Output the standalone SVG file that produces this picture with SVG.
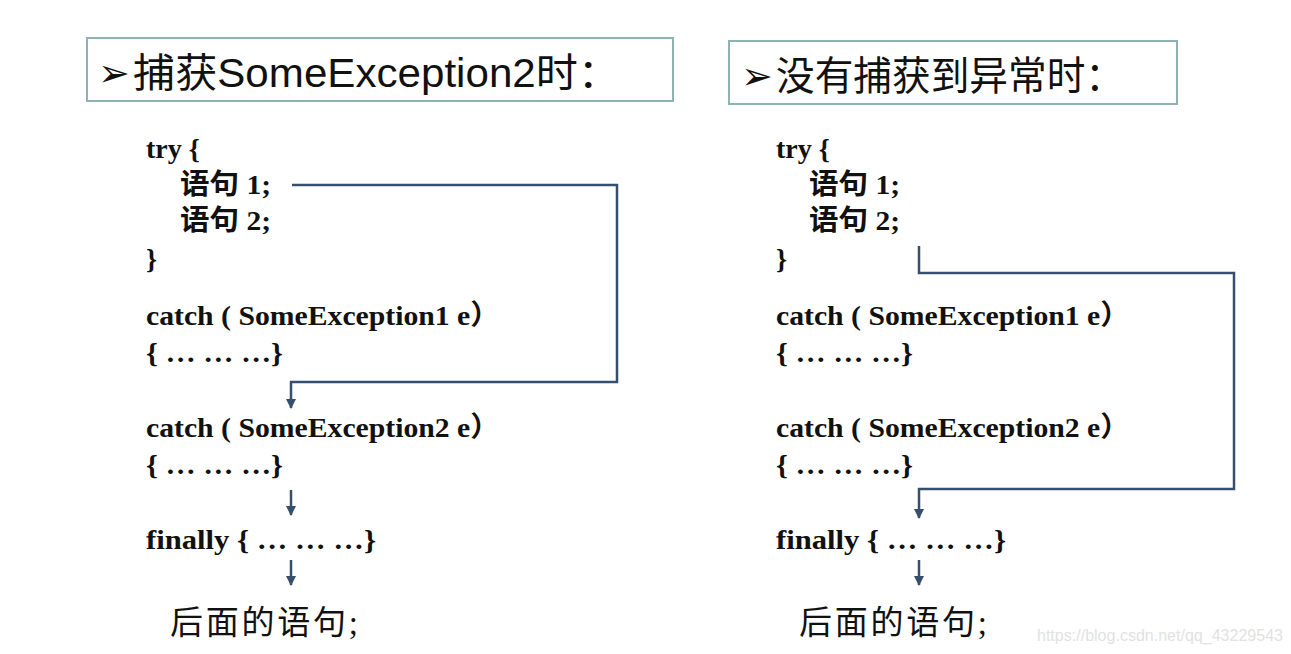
<svg xmlns="http://www.w3.org/2000/svg" width="1291" height="654" viewBox="0 0 1291 654">
<style>
.title{font-family:"Liberation Sans","Noto Sans CJK SC",sans-serif;font-size:40px;fill:#111}
.bullet{font-family:"DejaVu Sans","Noto Sans CJK SC",sans-serif;font-size:38px;fill:#111}
.box{fill:#fff;stroke:#8fb3b3;stroke-width:2}
.code{font-family:"Liberation Serif","Noto Sans CJK SC",serif;font-size:28px;font-weight:bold;fill:#111}
.after{font-family:"Liberation Serif","Noto Sans CJK SC",serif;font-size:33px;font-weight:normal;fill:#111}
.wire{fill:none;stroke:#34506e;stroke-width:2.5}
.wm{font-family:"Liberation Sans",sans-serif;font-size:16px;fill:#e2e2e2}
</style>
<defs>
<marker id="ah" viewBox="0 0 10 10" refX="9" refY="5" markerWidth="4" markerHeight="4" orient="auto" markerUnits="strokeWidth">
<path d="M0,0 L10,5 L0,10 z" fill="#34506e"/>
</marker>
</defs>
<rect width="1291" height="654" fill="#fff"/>
<g id="title-left">
<rect class="box" x="87" y="38" width="586" height="63"/>
<text class="bullet" x="98" y="86">➢</text>
<text class="title" x="133" y="87" textLength="487" lengthAdjust="spacingAndGlyphs">捕获SomeException2时：</text>
</g>
<g id="title-right">
<rect class="box" x="729" y="41" width="448" height="63"/>
<text class="bullet" x="741" y="89">➢</text>
<text class="title" x="776" y="90" textLength="348" lengthAdjust="spacingAndGlyphs">没有捕获到异常时：</text>
</g>
<g id="code-left">
<text class="code" x="146" y="158">try {</text>
<text class="code" x="180" y="194" textLength="91" lengthAdjust="spacingAndGlyphs">语句 1;</text>
<text class="code" x="180" y="230" textLength="91" lengthAdjust="spacingAndGlyphs">语句 2;</text>
<text class="code" x="146" y="268">}</text>
<text class="code" x="146" y="325" textLength="354" lengthAdjust="spacingAndGlyphs">catch ( SomeException1 e）</text>
<text class="code" x="146" y="362" textLength="137" lengthAdjust="spacingAndGlyphs">{ … … …}</text>
<text class="code" x="146" y="437" textLength="354" lengthAdjust="spacingAndGlyphs">catch ( SomeException2 e）</text>
<text class="code" x="146" y="474" textLength="137" lengthAdjust="spacingAndGlyphs">{ … … …}</text>
<text class="code" x="146" y="549" textLength="230" lengthAdjust="spacingAndGlyphs">finally { … … …}</text>
<text class="after" x="170" y="634" textLength="188">后面的语句;</text>
</g>
<g id="code-right">
<text class="code" x="776" y="158">try {</text>
<text class="code" x="809" y="194" textLength="91" lengthAdjust="spacingAndGlyphs">语句 1;</text>
<text class="code" x="809" y="230" textLength="91" lengthAdjust="spacingAndGlyphs">语句 2;</text>
<text class="code" x="776" y="268">}</text>
<text class="code" x="776" y="325" textLength="354" lengthAdjust="spacingAndGlyphs">catch ( SomeException1 e）</text>
<text class="code" x="776" y="362" textLength="137" lengthAdjust="spacingAndGlyphs">{ … … …}</text>
<text class="code" x="776" y="437" textLength="354" lengthAdjust="spacingAndGlyphs">catch ( SomeException2 e）</text>
<text class="code" x="776" y="474" textLength="137" lengthAdjust="spacingAndGlyphs">{ … … …}</text>
<text class="code" x="776" y="549" textLength="230" lengthAdjust="spacingAndGlyphs">finally { … … …}</text>
<text class="after" x="799" y="634" textLength="188">后面的语句;</text>
</g>
<g id="connectors">
<path class="wire" d="M292,185 H617 V382 H291 V408" marker-end="url(#ah)"/>
<path class="wire" d="M291,490 V515" marker-end="url(#ah)"/>
<path class="wire" d="M291,560 V585" marker-end="url(#ah)"/>
<path class="wire" d="M919,246 V273 H1234 V489 H919 V518" marker-end="url(#ah)"/>
<path class="wire" d="M919,560 V585" marker-end="url(#ah)"/>
</g>
<text class="wm" x="1037" y="641" textLength="246">https://blog.csdn.net/qq_43229543</text>
</svg>
